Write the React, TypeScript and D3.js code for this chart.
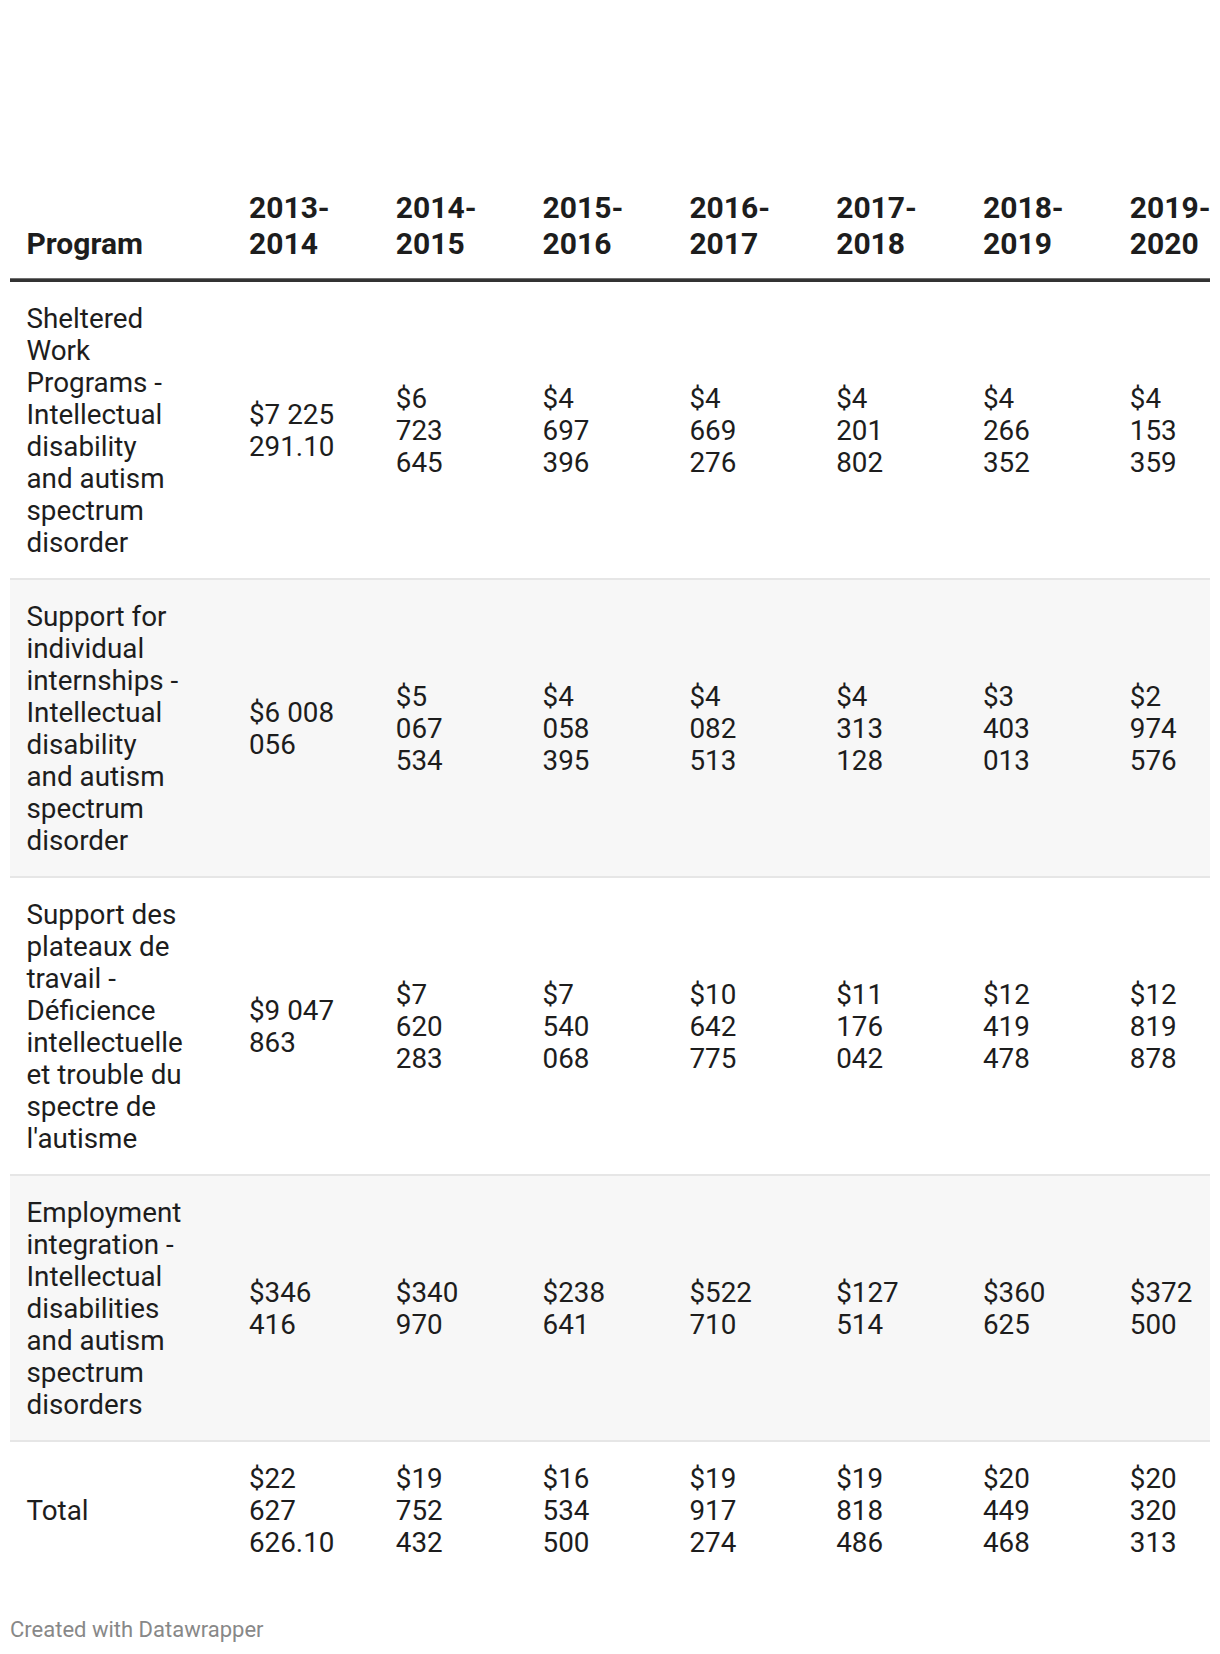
import React from "react";
import * as d3 from "d3";

const years = ["2013-2014", "2014-2015", "2015-2016", "2016-2017", "2017-2018", "2018-2019", "2019-2020"];

const programLines: string[][] = [
  ["Sheltered", "Work", "Programs -", "Intellectual", "disability", "and autism", "spectrum", "disorder"],
  ["Support for", "individual", "internships -", "Intellectual", "disability", "and autism", "spectrum", "disorder"],
  ["Support des", "plateaux de", "travail -", "Déficience", "intellectuelle", "et trouble du", "spectre de", "l'autisme"],
  ["Employment", "integration -", "Intellectual", "disabilities", "and autism", "spectrum", "disorders"],
  ["Total"],
];

const sheltered = [7225291.1, 6723645, 4697396, 4669276, 4201802, 4266352, 4153359];
const internships = [6008056, 5067534, 4058395, 4082513, 4313128, 3403013, 2974576];
const plateaux = [9047863, 7620283, 7540068, 10642775, 11176042, 12419478, 12819878];
const employment = [346416, 340970, 238641, 522710, 127514, 360625, 372500];
const totals = [22627626.1, 19752432, 16534500, 19917274, 19818486, 20449468, 20320313];

const rowValues = [sheltered, internships, plateaux, employment, totals];

const W = 1220;
const H = 1654;
const BODY_FONT = 27.8;
const LH = 32;
const PAD = 20;
const SEP = 2;
const RULE_TOP = 278.3;
const RULE_H = 3.7;
const FONT = "Roboto, 'Noto Sans', sans-serif";

const locale = d3.formatLocale({ decimal: ".", thousands: " ", grouping: [3], currency: ["$", ""] });
const fmtInt = locale.format("$,.0f");
const fmtDec = locale.format("$,.2f");
const fmt = (v: number) => (Number.isInteger(v) ? fmtInt(v) : fmtDec(v));

let ctx: CanvasRenderingContext2D | null = null;
function measure(s: string): number {
  if (!ctx) {
    ctx = document.createElement("canvas").getContext("2d");
    if (ctx) ctx.font = `${BODY_FONT}px Roboto`;
  }
  return ctx ? ctx.measureText(s).width : s.length * BODY_FONT * 0.56;
}

function wrap(text: string, maxW: number): string[] {
  const words = text.split(" ");
  const lines: string[] = [];
  let cur = "";
  for (const w of words) {
    const t = cur ? cur + " " + w : w;
    if (cur && measure(t) > maxW) {
      lines.push(cur);
      cur = w;
    } else cur = t;
  }
  if (cur) lines.push(cur);
  return lines;
}

export default function App() {
  const x = d3.scaleBand<string>().domain(years).range([234, 234 + years.length * 146.8]).paddingInner(0);
  const tx = (yr: string) => (x(yr) as number) + 15;

  const tableTop = RULE_TOP + RULE_H;
  const rows: { y0: number; h: number; lines: string[]; cells: string[][]; shaded: boolean }[] = [];
  let y = tableTop;
  programLines.forEach((lines, i) => {
    const cells = rowValues[i].map((v, j) => wrap(fmt(v), j === 0 ? 92 : 75));
    const n = Math.max(lines.length, ...cells.map((c) => c.length));
    const h = n * LH + 2 * PAD;
    rows.push({ y0: y, h, lines, cells, shaded: i % 2 === 1 });
    y += h + (i < programLines.length - 1 ? SEP : 0);
  });

  const capOff = (BODY_FONT * 0.711) / 2;
  const lineYs = (center: number, n: number) =>
    d3.range(n).map((k) => center + (k - (n - 1) / 2) * LH + capOff);

  return (
    <svg
      width={W}
      height={H}
      style={{ position: "absolute", left: 0, top: 0, background: "#fff" }}
      fontFamily={FONT}
    >
      <defs>
        <clipPath id="tbl">
          <rect x={10} y={0} width={1200} height={H} />
        </clipPath>
      </defs>
      <g clipPath="url(#tbl)">
        <text x={26.5} y={254} fontSize={30} fontWeight={700} fill="#1d1d1d">
          Program
        </text>
        {years.map((yr) => {
          const [a, b] = yr.split("-");
          return (
            <text key={yr} fontSize={30} fontWeight={700} fill="#1d1d1d">
              <tspan x={tx(yr)} y={218}>{a + "-"}</tspan>
              <tspan x={tx(yr)} y={254}>{b}</tspan>
            </text>
          );
        })}
        <rect x={10} y={RULE_TOP} width={1200} height={RULE_H} fill="#333" />

        {rows.map((r, i) => {
          const center = r.y0 + r.h / 2;
          return (
            <g key={i}>
              {r.shaded && <rect x={10} y={r.y0} width={1200} height={r.h} fill="#f7f7f7" />}
              {i < rows.length - 1 && (
                <rect x={10} y={r.y0 + r.h} width={1200} height={SEP} fill="#e6e6e6" />
              )}
              <text fontSize={BODY_FONT} fill="#1d1d1d">
                {lineYs(center, r.lines.length).map((ly, k) => (
                  <tspan key={k} x={26.5} y={ly}>
                    {r.lines[k]}
                  </tspan>
                ))}
              </text>
              {r.cells.map((cell, j) => (
                <text key={j} fontSize={BODY_FONT} fill="#1d1d1d">
                  {lineYs(center, cell.length).map((ly, k) => (
                    <tspan key={k} x={tx(years[j])} y={ly}>
                      {cell[k]}
                    </tspan>
                  ))}
                </text>
              ))}
            </g>
          );
        })}
      </g>
      <text x={10} y={1636.5} fontSize={22} fill="#888">
        Created with Datawrapper
      </text>
    </svg>
  );
}
